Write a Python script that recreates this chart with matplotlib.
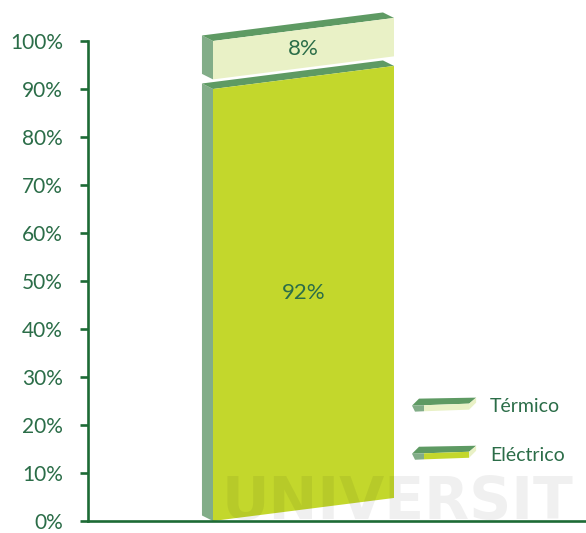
import matplotlib
matplotlib.use("Agg")
import matplotlib.pyplot as plt
from matplotlib.patches import Polygon, Patch
from matplotlib.legend_handler import HandlerBase
import numpy as np

# data
categories = ["Eléctrico", "Térmico"]
values = [92, 8]
labels = ["92%", "8%"]
ticks = np.arange(0, 101, 10)
tick_labels = [f"{t}%" for t in ticks]

# colours
front_colors = ["#c3d72c", "#e9f1c6"]
top_color = "#5e9a63"
side_color = "#82ad88"
axis_color = "#1d6b35"
text_color = "#2b6d48"

# bar geometry (data units)
WIDTH = 1.0
SLANT = 4.8    # rise of the front face across the bar width
DX = -0.061    # depth of the block, x
DY = 1.15      # depth of the block, y
GAP = 2.0

plt.rcParams['font.family'] = ['Lato', 'DejaVu Sans']

fig = plt.figure(figsize=(5.86, 5.33), dpi=100)
ax = fig.add_axes([88 / 586, 12 / 533, 498 / 586, 509 / 533])
ax.set_ylim(0, 509 / 4.8)
left = -0.5 - 125 / 181
ax.set_xlim(left, left + 498 / 181)


def sheared(x, v):
    return v + SLANT * (x + WIDTH / 2)


def draw_block(bottom, top, color):
    x0, x1 = -WIDTH / 2, WIDTH / 2
    yb0, yb1 = sheared(x0, bottom), sheared(x1, bottom)
    yt0, yt1 = sheared(x0, top), sheared(x1, top)
    side = [(x0 + DX, yb0 + DY), (x0, yb0), (x0, yt0), (x0 + DX, yt0 + DY)]
    topf = [(x0, yt0), (x1, yt1), (x1 + DX, yt1 + DY), (x0 + DX, yt0 + DY)]
    front = [(x0, yb0), (x1, yb1), (x1, yt1), (x0, yt0)]
    ax.add_patch(Polygon(side, closed=True, fc=side_color, ec="none", zorder=2))
    ax.add_patch(Polygon(topf, closed=True, fc=top_color, ec="none", zorder=2))
    ax.add_patch(Polygon(front, closed=True, fc=color, ec="none", zorder=2))


cum = np.concatenate([[0], np.cumsum(values)[:-1]])
for i, (v, b) in enumerate(zip(values, cum)):
    t = b + v - (GAP if i < len(values) - 1 else 0)
    draw_block(b, t, front_colors[i])
    ax.text(0, sheared(0, (b + t) / 2), labels[i], ha="center", va="center",
            fontsize=16, color=text_color, zorder=3)

# axes styling
for s in ["top", "right"]:
    ax.spines[s].set_visible(False)
ax.spines["left"].set_bounds(0, 100)
ax.spines["left"].set_color(axis_color)
ax.spines["bottom"].set_color(axis_color)
ax.spines["left"].set_linewidth(1.9)
ax.spines["bottom"].set_linewidth(1.9)
ax.set_xticks([])
ax.set_yticks(ticks)
ax.set_yticklabels(tick_labels)
ax.tick_params(axis="y", direction="out", length=6, width=1.9, color=axis_color,
               labelcolor=text_color, labelsize=15, pad=12)


class SlabHandler(HandlerBase):
    """Flat 3D slab used as legend key."""

    def create_artists(self, legend, orig_handle, xdescent, ydescent,
                       width, height, fontsize, trans):
        x0, ym = -xdescent, -ydescent + height / 2
        k = width / 65.0  # shape is laid out on a 65-unit wide grid

        def pts(seq):
            return [(x0 + px * k, ym + py * k) for px, py in seq]

        fc = orig_handle.get_facecolor()
        arts = [
            Polygon(pts([(0, 0), (57, 2), (64, 8), (7, 7)]), closed=True, fc=top_color, ec="none"),
            Polygon(pts([(0, 0), (12, 0.4), (12, -5.6), (3, -6)]), closed=True, fc=side_color, ec="none"),
            Polygon(pts([(12, 0.4), (57, 2), (57, -4), (12, -5.6)]), closed=True, fc=fc, ec="none"),
            Polygon(pts([(57, 2), (64, 8), (64, 3), (57, -4)]), closed=True, fc=front_colors[1], ec="none"),
        ]
        for a in arts:
            a.set_transform(trans)
        return arts


handles = [Patch(facecolor=front_colors[1]), Patch(facecolor=front_colors[0])]
leg = fig.legend(handles, [categories[1], categories[0]],
                 handler_map={Patch: SlabHandler()},
                 loc="center left", bbox_to_anchor=(412 / 586, 1 - 431 / 533),
                 frameon=False, fontsize=14, handlelength=3.35, handletextpad=0.67,
                 labelspacing=1.6, borderpad=0, borderaxespad=0)
for txt in leg.get_texts():
    txt.set_color(text_color)

# faint watermark
fig.text(222 / 586, 2 / 533, "UNIVERSIT", fontsize=42, fontweight="bold",
         family=["Liberation Sans Narrow", "DejaVu Sans"], color="black", alpha=0.06,
         ha="left", va="bottom", zorder=5)

fig.savefig("out.png", dpi=100)
